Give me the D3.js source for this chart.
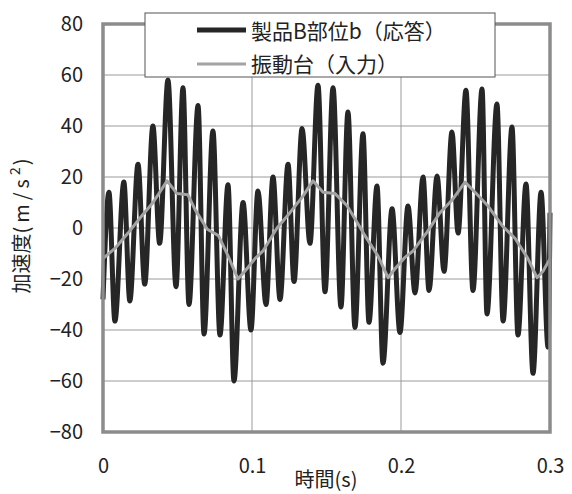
<!DOCTYPE html>
<html>
<head>
<meta charset="utf-8">
<script src="https://cdn.jsdelivr.net/npm/d3@7"></script>
<style>
  body { margin: 0; background: #fff; }
  text { font-family: "Noto Sans CJK JP", "Noto Sans", sans-serif; fill: #222; }
</style>
</head>
<body>
<div id="chart"></div>
<script>
// response of part b (black) - extrema
var respT = [0, 0.004, 0.008, 0.014, 0.018, 0.0235, 0.028, 0.0335, 0.038, 0.0436, 0.049,
  0.0537, 0.0577, 0.0638, 0.0678, 0.0738, 0.0785, 0.0839, 0.0879, 0.094, 0.0993,
  0.104, 0.1094, 0.1141, 0.1188, 0.1242, 0.1282, 0.1336, 0.1389, 0.1443, 0.149,
  0.1544, 0.1597, 0.1644, 0.1691, 0.1745, 0.1785, 0.1839, 0.1879, 0.194, 0.1993,
  0.2047, 0.2094, 0.2148, 0.2188, 0.2242, 0.2289, 0.2342, 0.2383, 0.2436, 0.2483,
  0.2544, 0.2577, 0.2644, 0.2685, 0.2745, 0.2785, 0.2839, 0.2886, 0.294, 0.2987, 0.3];
var respA = [-28, 14, -36.5, 18, -28.6, 25, -22, 40, -6, 58, -23,
  55, -30, 48, -41.6, 38, -42, 17, -60, 10, -40,
  14.5, -30, 20, -28, 25, -21, 39, -6, 56, -25,
  55, -31, 45.5, -39, 37, -37, 16.5, -53, 7.5, -41,
  8.6, -25.5, 20, -24.5, 20.4, -17, 37.6, -2, 54, -24.5,
  54.5, -33.7, 48.6, -36.5, 39.6, -42, 17.3, -57, 14, -46.7, 6];

// shaking table input (gray)
var inT = [0, 0.008, 0.0168, 0.025, 0.0336, 0.043, 0.0497, 0.057, 0.062, 0.070, 0.0775,
  0.084, 0.0906, 0.0966, 0.102, 0.1074, 0.1168, 0.1255, 0.1342, 0.1409, 0.1477,
  0.1557, 0.1638, 0.1718, 0.1758, 0.1846, 0.1913, 0.196, 0.2027, 0.2081, 0.2175,
  0.2262, 0.2349, 0.243, 0.2497, 0.2584, 0.2678, 0.2765, 0.2852, 0.2913, 0.2953, 0.3];
var inA = [-12, -8, -2, 4, 10, 18.5, 13.5, 13, 7, -0.5, -3,
  -11, -20, -16, -12, -9, 0, 6, 12.5, 18.5, 14,
  13.5, 8.7, 1, -3, -11, -19.5, -16, -11.5, -9, -1.6,
  6, 11.4, 18, 14, 8.6, 1, -4, -12, -19.5, -17, -12];

var yTicks = [-80, -60, -40, -20, 0, 20, 40, 60, 80];
var xTicks = [0, 0.1, 0.2, 0.3];
var seriesNames = ["製品B部位b（応答）", "振動台（入力）"];

var W = 572, H = 494;
var pL = 103, pR = 550, pT = 24, pB = 432;

var svg = d3.select("#chart").append("svg")
    .attr("width", W)
    .attr("height", H);

var x = d3.scaleLinear().domain([0, 0.3]).range([pL, pR]);
var y = d3.scaleLinear().domain([-80, 80]).range([pB, pT]);

// grid
svg.append("g").selectAll("line")
    .data(yTicks.slice(1, -1))
    .join("line")
    .attr("x1", pL).attr("x2", pR)
    .attr("y1", d => y(d)).attr("y2", d => y(d))
    .attr("stroke", "#9a9a9a").attr("stroke-width", 1);

svg.append("g").selectAll("line")
    .data(xTicks.slice(1, -1))
    .join("line")
    .attr("x1", d => x(d)).attr("x2", d => x(d))
    .attr("y1", pT).attr("y2", pB)
    .attr("stroke", "#9a9a9a").attr("stroke-width", 1);

// series
var resp = respT.map((t, i) => [t, respA[i]]);
var inp = inT.map((t, i) => [t, inA[i]]);

var line = d3.line()
    .x(d => x(d[0]))
    .y(d => y(d[1]));

svg.append("path")
    .datum(resp)
    .attr("fill", "none")
    .attr("stroke", "#262626")
    .attr("stroke-width", 5)
    .attr("stroke-linejoin", "round")
    .attr("d", line.curve(d3.curveMonotoneX));

svg.append("path")
    .datum(inp)
    .attr("fill", "none")
    .attr("stroke", "#a3a3a3")
    .attr("stroke-width", 3)
    .attr("stroke-linejoin", "round")
    .attr("d", line.curve(d3.curveLinear));

// frame
svg.append("rect")
    .attr("x", pL).attr("y", pT)
    .attr("width", pR - pL).attr("height", pB - pT)
    .attr("fill", "none")
    .attr("stroke", "#8c8c8c")
    .attr("stroke-width", 3.5);

// axes
var yAxis = svg.append("g")
    .attr("transform", "translate(" + pL + ",0)")
    .call(d3.axisLeft(y).tickValues(yTicks).tickSize(0).tickPadding(20));
yAxis.select(".domain").remove();
yAxis.selectAll("text").style("font-size", "20px").attr("fill", "#222");

var xAxis = svg.append("g")
    .attr("transform", "translate(0," + pB + ")")
    .call(d3.axisBottom(x).tickValues(xTicks).tickSize(0).tickPadding(27)
      .tickFormat(d => String(d)));
xAxis.select(".domain").remove();
xAxis.selectAll("text").style("font-size", "20px").attr("fill", "#222");

// axis titles
svg.append("text")
    .attr("x", 326).attr("y", 487)
    .attr("text-anchor", "middle")
    .style("font-size", "20px")
    .text("時間(s)");

var yt = svg.append("text")
    .attr("transform", "translate(29,226) rotate(-90)")
    .attr("text-anchor", "middle")
    .style("font-size", "20px");
yt.append("tspan").text("加速度");
yt.append("tspan").style("letter-spacing", "4px").text("(m/s");
yt.append("tspan").attr("dy", -9).style("font-size", "14px").text("2");
yt.append("tspan").attr("dy", 9).attr("dx", 2).text(")");

// legend
var legend = svg.append("g");
legend.append("rect")
    .attr("x", 145).attr("y", 13)
    .attr("width", 350).attr("height", 64)
    .attr("fill", "#fff")
    .attr("stroke", "#555").attr("stroke-width", 1);

legend.append("line")
    .attr("x1", 197).attr("x2", 246).attr("y1", 30).attr("y2", 30)
    .attr("stroke", "#262626").attr("stroke-width", 5);
legend.append("line")
    .attr("x1", 197).attr("x2", 246).attr("y1", 64).attr("y2", 64)
    .attr("stroke", "#a3a3a3").attr("stroke-width", 3);

legend.selectAll(".lt")
    .data(seriesNames)
    .join("text")
    .attr("class", "lt")
    .attr("x", 251)
    .attr("y", (d, i) => 39 + i * 33)
    .style("font-size", "21px")
    .text(d => d);
</script>
</body>
</html>
